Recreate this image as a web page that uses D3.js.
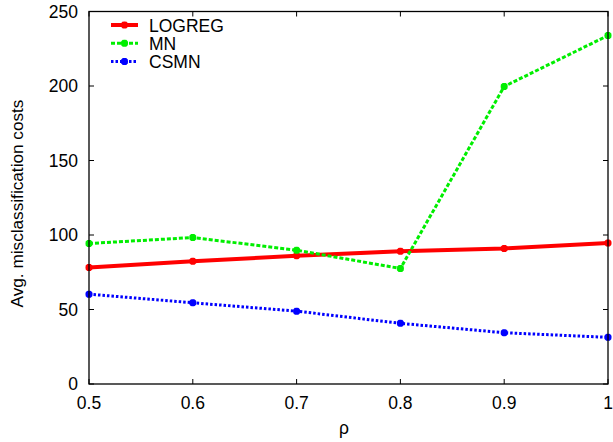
<!DOCTYPE html>
<html>
<head>
<meta charset="utf-8">
<script src="https://cdn.jsdelivr.net/npm/d3@7"></script>
<style>
body { margin: 0; background: #fff; }
text { font-family: "Liberation Sans", Arial, sans-serif; }
</style>
</head>
<body>
<div id="chart"></div>
<script>
var rho = [0.5, 0.6, 0.7, 0.8, 0.9, 1.0];
var logreg = [78.2, 82.4, 86.0, 89.1, 91.0, 94.7];
var mn = [94.3, 98.3, 89.8, 77.5, 199.7, 233.9];
var csmn = [60.3, 54.5, 48.9, 40.7, 34.4, 31.3];
var xTicks = [0.5, 0.6, 0.7, 0.8, 0.9, 1];
var yTicks = [0, 50, 100, 150, 200, 250];

var series = [
    {name: "LOGREG", values: logreg, color: "#ff0000", dash: null},
    {name: "MN", values: mn, color: "#00ee00", dash: "4,2"},
    {name: "CSMN", values: csmn, color: "#0000ff", dash: "2.5,2"}
];

var W = 613, H = 442;
var FS = 17.5;
// plot box (don't use "top" - clashes with window.top)
var pLeft = 89, pRight = 608, pTop = 11.5, pBottom = 384;

var svg = d3.select("#chart").append("svg")
    .attr("width", W)
    .attr("height", H);

var x = d3.scaleLinear().domain([0.5, 1]).range([pLeft, pRight]);
var y = d3.scaleLinear().domain([0, 250]).range([pBottom, pTop]);

// tick marks, inward on all four sides
var axisG = svg.append("g").attr("stroke", "#000").attr("stroke-width", 1);
xTicks.forEach(function(t){
    axisG.append("line").attr("x1", x(t)).attr("x2", x(t)).attr("y1", pBottom).attr("y2", pBottom - 5);
    axisG.append("line").attr("x1", x(t)).attr("x2", x(t)).attr("y1", pTop).attr("y2", pTop + 5);
});
yTicks.forEach(function(t){
    axisG.append("line").attr("x1", pLeft).attr("x2", pLeft + 5).attr("y1", y(t)).attr("y2", y(t));
    axisG.append("line").attr("x1", pRight).attr("x2", pRight - 5).attr("y1", y(t)).attr("y2", y(t));
});

// tick labels
svg.append("g").selectAll("text").data(xTicks).enter().append("text")
    .attr("x", function(d){ return x(d); })
    .attr("y", 409)
    .attr("text-anchor", "middle")
    .attr("font-size", FS)
    .text(function(d){ return d == 1 ? "1" : d3.format(".1f")(d); });

svg.append("g").selectAll("text").data(yTicks).enter().append("text")
    .attr("x", 78)
    .attr("y", function(d){ return y(d) + 6; })
    .attr("text-anchor", "end")
    .attr("font-size", FS)
    .text(function(d){ return d; });

// axis labels
svg.append("text")
    .attr("x", 344)
    .attr("y", 434)
    .attr("text-anchor", "middle")
    .attr("font-size", FS)
    .text("ρ");

svg.append("text")
    .attr("transform", "translate(22.5,203.5) rotate(-90)")
    .attr("text-anchor", "middle")
    .attr("font-size", 17.2)
    .text("Avg. misclassification costs");

// lines
var line = d3.line()
    .x(function(d, i){ return x(rho[i]); })
    .y(function(d){ return y(d); });

function marker(g, cx, cy, color){
    var s = 3.5;
    g.append("path")
        .attr("d", "M" + (cx - s) + "," + cy + "H" + (cx + s) +
                   "M" + cx + "," + (cy - s) + "V" + (cy + s) +
                   "M" + (cx - s * 0.75) + "," + (cy - s * 0.75) + "L" + (cx + s * 0.75) + "," + (cy + s * 0.75) +
                   "M" + (cx - s * 0.75) + "," + (cy + s * 0.75) + "L" + (cx + s * 0.75) + "," + (cy - s * 0.75))
        .attr("stroke", color)
        .attr("stroke-width", 2.5)
        .attr("fill", "none");
}

var plot = svg.append("g");
series.forEach(function(s){
    plot.append("path")
        .datum(s.values)
        .attr("d", line)
        .attr("fill", "none")
        .attr("stroke", s.color)
        .attr("stroke-width", s.dash ? 3 : 4)
        .attr("stroke-dasharray", s.dash);
    s.values.forEach(function(v, i){
        marker(plot, x(rho[i]), y(v), s.color);
    });
});

// frame
svg.append("rect")
    .attr("x", pLeft).attr("y", pTop)
    .attr("width", pRight - pLeft).attr("height", pBottom - pTop)
    .attr("fill", "none")
    .attr("stroke", "#000")
    .attr("stroke-width", 1.3);

// legend
var leg = svg.append("g");
series.forEach(function(s, i){
    var ly = 25 + i * 18.3;
    leg.append("line")
        .attr("x1", 111).attr("x2", 138)
        .attr("y1", ly).attr("y2", ly)
        .attr("stroke", s.color)
        .attr("stroke-width", s.dash ? 3 : 4)
        .attr("stroke-dasharray", s.dash);
    marker(leg, 124.5, ly, s.color);
    leg.append("text")
        .attr("x", 149)
        .attr("y", ly + 6.5)
        .attr("font-size", FS)
        .text(s.name);
});
</script>
</body>
</html>
